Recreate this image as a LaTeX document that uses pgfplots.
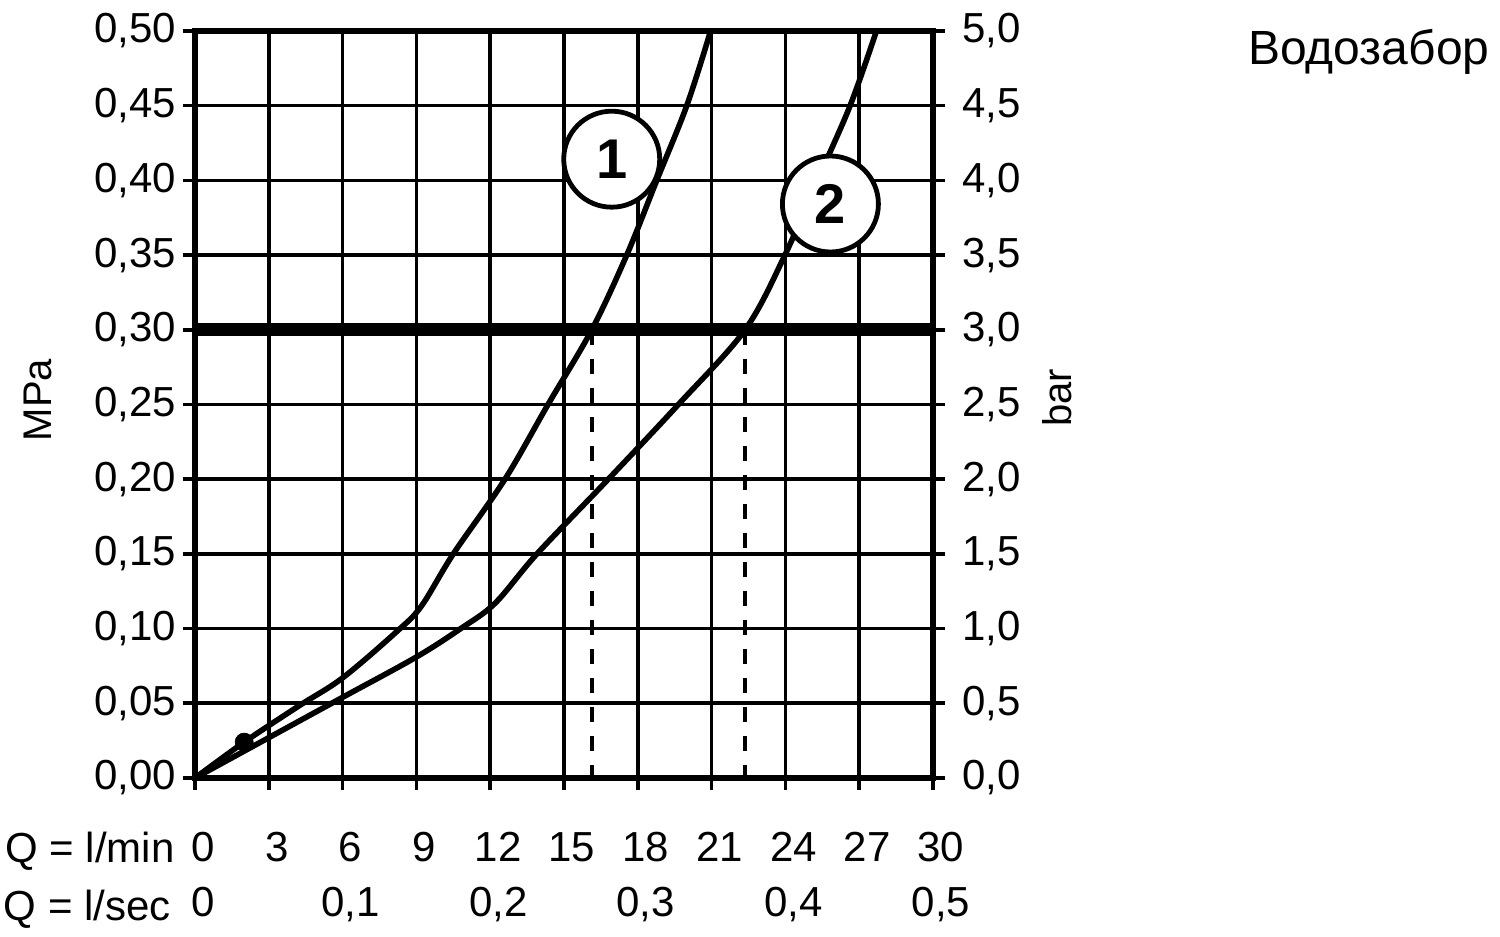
\documentclass[border=0pt]{standalone}
\usepackage{fontspec}
\setmainfont{Liberation Sans}
\usepackage{pgfplots}
\pgfplotsset{compat=1.18}
\begin{document}
\begin{tikzpicture}
\useasboundingbox (-97.5pt,-79.5pt) rectangle (652.5pt,389pt);
\begin{axis}[
  at={(0,0)}, anchor=south west,
  width=369pt, height=373.5pt, scale only axis,
  xmin=0, xmax=30, ymin=0, ymax=0.5,
  xtick={0,3,6,9,12,15,18,21,24,27,30},
  xticklabels={0,3,6,9,12,15,18,21,24,27,30},
  ytick={0,0.05,0.1,0.15,0.2,0.25,0.3,0.35,0.4,0.45,0.5},
  yticklabels={{0,00},{0,05},{0,10},{0,15},{0,20},{0,25},{0,30},{0,35},{0,40},{0,45},{0,50}},
  xtick pos=bottom, ytick pos=left,
  tick align=outside,
  major tick length=6pt,
  tick style={black, line width=1.8pt},
  grid=major,
  major grid style={black, line width=1.8pt},
  axis line style={line width=2.6pt},
  ticklabel style={font=\fontsize{21}{23}\selectfont},
  xticklabel style={anchor=base, yshift=-36pt, xshift=4pt},
  extra x ticks={0,6,12,18,24,30},
  extra x tick labels={0,{0,1},{0,2},{0,3},{0,4},{0,5}},
  extra x tick style={major tick length=0pt, grid=none, xticklabel style={yshift=-33.5pt}},
]
\addplot[black, line width=6.5pt] coordinates {(0,0.3) (30,0.3)};
\addplot[black, line width=2.8pt, smooth, tension=0.55] coordinates {
(0,0) (2,0.024) (4.2,0.048) (6,0.067) (8.2,0.098) (9.2,0.115) (10.5,0.15) (12.6,0.20) (14.35,0.25) (16.13,0.30) (17.55,0.35) (18.77,0.40) (19.99,0.45) (20.96,0.50)};
\addplot[black, line width=2.8pt, smooth, tension=0.55] coordinates {
(0,0) (3,0.027) (6,0.054) (9,0.081) (10.8,0.10) (12.2,0.117) (13.9,0.15) (16.8,0.20) (19.65,0.25) (22.36,0.30) (23.98,0.35) (25.3,0.40) (26.63,0.45) (27.7,0.50)};
\addplot[black, line width=1.8pt, dash pattern=on 7.5pt off 7pt] coordinates {(16.13,0.3) (16.13,0)};
\addplot[black, line width=1.8pt, dash pattern=on 7.5pt off 7pt] coordinates {(22.36,0.3) (22.36,0)};
\addplot[only marks, mark=*, mark size=4.5pt, black] coordinates {(2,0.024)};
\node[circle, draw=black, line width=2.4pt, fill=white, minimum size=48pt, inner sep=0pt, font=\fontsize{28}{28}\selectfont\bfseries] at (axis cs:16.94,0.4142) {1};
\node[circle, draw=black, line width=2.4pt, fill=white, minimum size=48pt, inner sep=0pt, font=\fontsize{28}{28}\selectfont\bfseries] at (axis cs:25.83,0.3842) {2};
\end{axis}
\begin{axis}[
  at={(0,0)}, anchor=south west,
  width=369pt, height=373.5pt, scale only axis,
  xmin=0, xmax=30, ymin=0, ymax=5,
  axis y line*=right, axis x line=none,
  ytick={0,0.5,1,1.5,2,2.5,3,3.5,4,4.5,5},
  yticklabels={{0,0},{0,5},{1,0},{1,5},{2,0},{2,5},{3,0},{3,5},{4,0},{4,5},{5,0}},
  tick align=outside,
  major tick length=6pt,
  tick style={black, line width=1.8pt},
  axis line style={line width=2.6pt},
  ticklabel style={font=\fontsize{21}{23}\selectfont},
  yticklabel style={xshift=5pt},
]
\addplot[draw=none] coordinates {(0,0) (30,5)};
\end{axis}
\node[rotate=90, font=\fontsize{20}{22}\selectfont] at (-78.5pt,189pt) {MPa};
\node[rotate=90, font=\fontsize{20}{22}\selectfont] at (431pt,190pt) {bar};
\node[anchor=base east, inner sep=0pt, font=\fontsize{21}{23}\selectfont] at (-10pt,-42pt) {Q = l/min};
\node[anchor=base east, inner sep=0pt, font=\fontsize{21}{23}\selectfont] at (-12pt,-71pt) {Q = l/sec};
\node[anchor=base east, inner sep=0pt, font=\fontsize{24}{28}\selectfont] at (647.5pt,356.5pt) {Водозабор};
\end{tikzpicture}
\end{document}
